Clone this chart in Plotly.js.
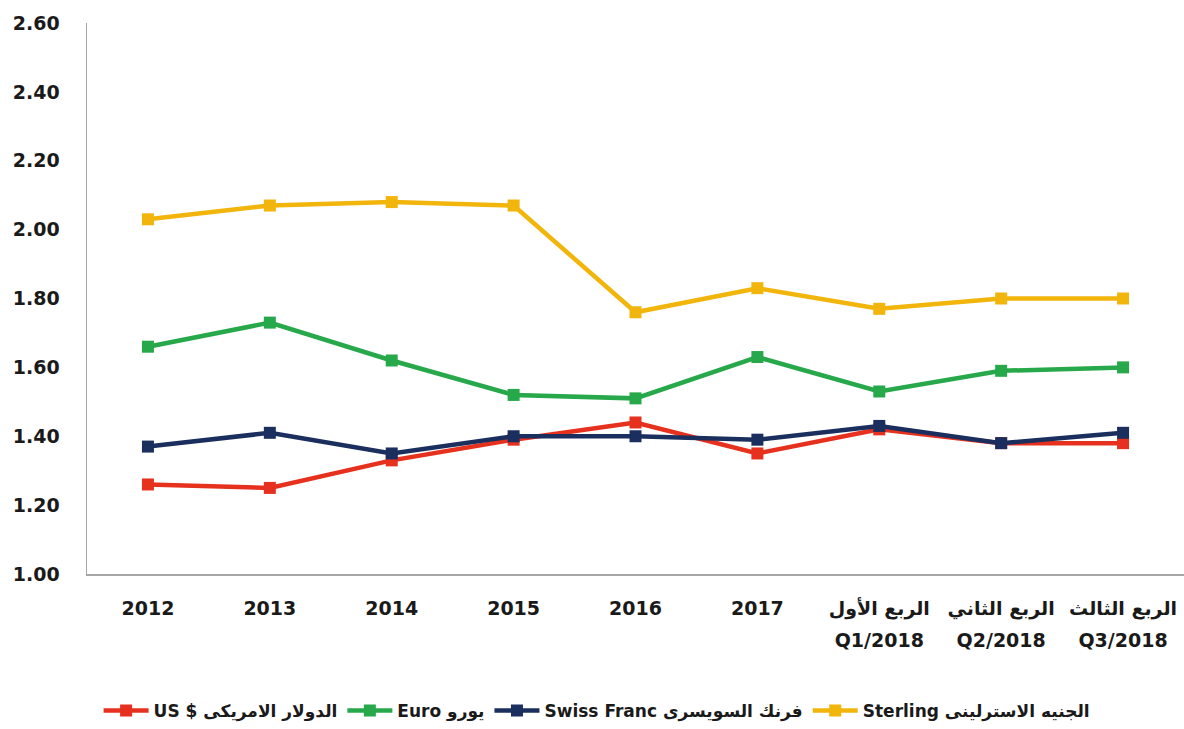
<!DOCTYPE html>
<html>
<head>
<meta charset="utf-8">
<script src="https://cdn.plot.ly/plotly-3.0.1.min.js"></script>
<style>html,body{margin:0;padding:0;background:#fff;}#chart{width:1184px;height:729px;}</style>
</head>
<body>
<div id="chart"></div>
<script>
const categories = ["2012", "2013", "2014", "2015", "2016", "2017", "Q1/2018", "Q2/2018", "Q3/2018"];
const tickLabels = ["2012", "2013", "2014", "2015", "2016", "2017",
  "الربع الأول<br>Q1/2018", "الربع الثاني<br>Q2/2018", "الربع الثالث<br>Q3/2018"];
const usd = [1.26, 1.25, 1.33, 1.39, 1.44, 1.35, 1.42, 1.38, 1.38];
const euro = [1.66, 1.73, 1.62, 1.52, 1.51, 1.63, 1.53, 1.59, 1.60];
const swiss = [1.37, 1.41, 1.35, 1.40, 1.40, 1.39, 1.43, 1.38, 1.41];
const sterling = [2.03, 2.07, 2.08, 2.07, 1.76, 1.83, 1.77, 1.80, 1.80];
const seriesNames = ["US $ الدولار الامريكى", "Euro يورو", "Swiss Franc فرنك السويسرى", "Sterling الجنيه الاسترلينى"];
const seriesColors = ["#E5311E", "#27A84A", "#1B2F5E", "#F2B50C"];
const seriesValues = [usd, euro, swiss, sterling];

const tickFontPx = 19;
const wrapTick = t => '<span style="font-size:' + tickFontPx + 'px">' + t.split('<br>').join('</span><br><span style="font-size:' + tickFontPx + 'px">') + '</span>';

const traces = seriesValues.map((vals, i) => ({
  type: 'scatter', mode: 'lines+markers',
  x: categories, y: vals, name: seriesNames[i],
  line: {color: seriesColors[i], width: 4.5},
  marker: {symbol: 'square', size: 12, color: seriesColors[i]}
}));

const layout = {
  width: 1184, height: 729,
  margin: {l: 87, r: 0, t: 23, b: 154},
  paper_bgcolor: '#fff', plot_bgcolor: '#fff',
  showlegend: true,
  font: {family: 'DejaVu Sans, sans-serif', color: '#1a1a1a'},
  xaxis: {
    type: 'category', range: [-0.5, 8.5],
    tickvals: categories, ticktext: tickLabels.map(wrapTick),
    showgrid: false, zeroline: false,
    showline: true, linecolor: '#A6A6A6', linewidth: 1.5,
    ticks: '', ticklabelstandoff: 10,
    tickfont: {family: 'DejaVu Sans', size: 24.5, weight: 'bold', color: '#1a1a1a'}
  },
  yaxis: {
    range: [1.0, 2.6], dtick: 0.2, tick0: 1.0, tickformat: '.2f',
    showgrid: false, zeroline: false,
    showline: true, linecolor: '#A6A6A6', linewidth: 1.5,
    ticks: '', ticklabelstandoff: 22,
    tickfont: {family: 'DejaVu Sans', size: 19, weight: 'bold', color: '#1a1a1a'}
  },
  legend: {
    orientation: 'h', x: 0.465, xanchor: 'center', y: -0.248, yanchor: 'middle',
    font: {family: 'DejaVu Sans', size: 17, weight: 'bold', color: '#1a1a1a'},
    itemwidth: 45, bgcolor: 'rgba(0,0,0,0)'
  }
};

Plotly.newPlot('chart', traces, layout, {displayModeBar: false, staticPlot: true});
</script>
</body>
</html>
